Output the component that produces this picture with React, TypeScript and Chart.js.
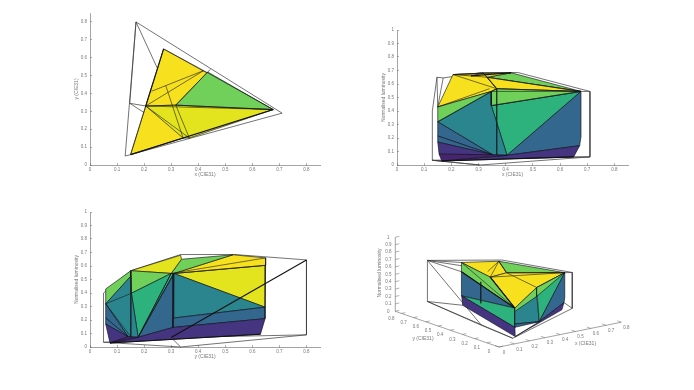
import React, { useEffect, useRef } from "react";
import { Chart, registerables } from "chart.js";

Chart.register(...registerables);

const vertexNames = ["Gt","Rt","Bt","W","Y","V","C","M","M4","A","P","A2","A3","A4","Wm","M2","M3","E","Mb","N","N2","B1","B2","B3","B4","B0","B5","R1","R2","R3","G1","G2","G3","G5","G6","K1","K2","T","Got","Gob","Rot","Rob","Bot","Bob","H","Z","Yo","Wo","Q","Kv1","Kv2"];
const cieX = [0.272,0.677,0.15,0.317,0.42,0.435,0.206,0.367,0.367,0.347,0.34,0.347,0.347,0.347,0.332,0.367,0.367,0.405,0.367,0.352,0.344,0.15,0.15,0.15,0.155,0.165,0.15,0.677,0.672,0.65,0.272,0.272,0.265,0.272,0.272,0.227,0.28,0.266,0.17,0.17,0.71,0.71,0.13,0.13,0.147,0.305,0.445,0.31,0.125,0.12,0.12];
const cieY = [0.649,0.31,0.058,0.335,0.528,0.52,0.33,0.151,0.151,0.3,0.31,0.3,0.307,0.307,0.338,0.151,0.153,0.178,0.151,0.141,0.151,0.058,0.058,0.058,0.06,0.074,0.058,0.31,0.31,0.3,0.647,0.647,0.63,0.649,0.649,0.412,0.444,0.485,0.8,0.8,0.29,0.29,0.05,0.05,0.345,0.335,0.535,0.335,0.3,0.3,0.3];
const luminosity = [0.66,0.545,0.43,0.68,0.683,0.68,0.67,0.565,0.525,0.545,0.565,0.44,0.214,0.145,0.65,0.445,0.398,0.072,0.075,0.076,0.075,0.32,0.215,0.17,0.08,0.03,0.385,0.21,0.143,0.06,0.295,0.21,0.095,0.535,0.605,0.6,0.65,0.6,0.645,0.09,0.545,0.06,0.4,0.035,0.65,0,0.685,0.685,0.07,0.66,0.37];

const tickValues = [0,0.1,0.2,0.3,0.4,0.5,0.6,0.7,0.8];
const lumTicks = [0,0.1,0.2,0.3,0.4,0.5,0.6,0.7,0.8,0.9,1];

const YEL = "#f7e11e", YD = "#e4e41e", GRN = "#70d05a", TG = "#2db27d", TEAL = "#2a858e", BLUE = "#33678d", IND = "#453581", PUR = "#47246f";

type Face = [string, string[]];

const xyFaces: Face[] = [
  [YEL, ["Gt","Rt","Bt"]],
  [YD, ["C","W","Rt","M","N2"]],
  [GRN, ["W","V","Rt"]],
];
const xyHull = [["Got","Rot","Bob","Got"],["Got","T"],["H","C"],["H","N2"],["H","Got"],["Yo","W"]];
const xyLines = [["Gt","Y","Rt"],["K1","Y"],["C","Y"],["C","M"],["K2","N2"],["W","M"],["C","W","Rt"],["C","Rt"],["W","V"],["C","Bt"]];
const xyHeavy = [["C","Gt"],["Bt","Rt"]];

const xlFaces: Face[] = [
  [YEL, ["Bt","C","W","Wm","M","A"]],
  [YEL, ["C","Gt","W"]],
  [GRN, ["Wm","Y","Rt"]],
  [YD, ["W","Y","Wm"]],
  [YEL, ["Wm","Rt","M"]],
  [GRN, ["Bt","A","A2","B1"]],
  [TG, ["A2","Rt","E"]],
  [GRN, ["A","M","Rt","A2"]],
  [TEAL, ["B1","A","A2","E","N"]],
  [BLUE, ["B1","N","B2"]],
  [BLUE, ["B2","N","B3"]],
  [IND, ["B3","N","B4"]],
  [BLUE, ["Rt","E","R2","R1"]],
  [IND, ["E","R2","R3","B0"]],
  [PUR, ["B4","N","E","B0"]],
];
const xlHull = [["Bot","H","Got","Wo","Yo","Rot","Rob","Z","Bob","Bot"],["Bob","Rob"],["Got","Bt"],["H","Bt"],["Bob","Z"],["Rot","Rt"],["R3","Rob"],["Bob","B0"]];
const xlLines = [["C","W"],["C","M"],["W","M"],["Wm","M"],["Wm","Rt"],["M","Rt"],["A","Rt"],["C","Y"],["M","Mb"],["Bt","P"],["B1","M"],["Gt","Wm"],["A2","Rt"],["A","A2"]];
const xlHeavy = [["B0","R3"],["Gt","Y"]];

const ylFaces: Face[] = [
  [YD, ["Rt","G6","G1"]],
  [YEL, ["Rt","Y","Gt","G6"]],
  [GRN, ["Wm","Y","Rt","A"]],
  [YD, ["M","W","Wm","A"]],
  [GRN, ["Bt","M","M4","B1"]],
  [GRN, ["M","A","M3"]],
  [TG, ["M3","A","E"]],
  [TG, ["A","Rt","E"]],
  [TEAL, ["B1","M4","M3","E","Mb","N"]],
  [BLUE, ["E","Rt","A4"]],
  [TEAL, ["Rt","G1","A3"]],
  [BLUE, ["A3","G1","G2","A4"]],
  [IND, ["E","A4","G2","G3","B0"]],
  [BLUE, ["B1","N","B2"]],
  [BLUE, ["B2","N","B3"]],
  [IND, ["B3","N","B0"]],
  [PUR, ["N","E","B0"]],
];
const ylHull = [["Bot","M","Wo","Yo","Got","Gob","Q","Bob","Bot"],["Bob","Z","Gob"],["Q","Z"],["Q","A"]];
const ylLines = [["M","Mb"],["Rt","A4"],["A","E"],["Rt","E"],["B1","M3"],["B1","Mb"],["Rt","G6"],["A","Gt"]];
const ylHeavy = [["B0","G3"],["Q","Got"]];

const viewFaces: Face[] = [
  [YEL, ["Gt","Y","W","C"]],
  [GRN, ["Y","Rt","W"]],
  [YEL, ["C","W","Rt","M","Bt"]],
  [GRN, ["Gt","C","Bt","B5","G5"]],
  [BLUE, ["G5","Bt","G2"]],
  [TG, ["G2","Bt","B5","B3"]],
  [IND, ["G2","B3","B0","G3"]],
  [GRN, ["Bt","M","M2","B1"]],
  [TEAL, ["B5","M2","E","B2"]],
  [BLUE, ["B2","E","B3"]],
  [TG, ["M","Rt","E"]],
  [GRN, ["M","Rt","M2"]],
  [BLUE, ["Rt","E","R2","R1"]],
  [IND, ["E","R2","R3","B0"]],
];
const viewHull = [["Got","Yo","Rot","Rob","Bob","Gob","Got"],["Got","Q"],["Gob","Q"],["Q","Bob"],["Got","Gt"],["Got","G5"],["Got","W"],["Gob","G3"],["Rot","Rt"],["Rob","R2"]];
const viewLines = [["C","Y"],["W","Y"],["K2","Y"],["W","M"],["C","Rt"],["W","Rt"],["Gt","Bt"],["Kv1","Kv2"]];
const viewHeavy = [["G5","Bt"],["C","Bt"]];

const AXIS = "#666";
const TEXT = "#777";
const EDGE = "rgba(15,15,25,0.9)";
const HULL = "rgba(60,60,60,0.8)";
const FONT = "Liberation Sans";

const vert = (name: string) => {
  const i = vertexNames.indexOf(name);
  return [cieX[i], cieY[i], luminosity[i]];
};

const polyDataset = (pts: { x: number; y: number }[], color: string) => ({
  data: [...pts, pts[0]], showLine: true, fill: "shape", backgroundColor: color,
  borderColor: EDGE, borderWidth: 0.7, pointRadius: 0, clip: false,
});
const lineDataset = (pts: { x: number; y: number }[], color = "rgba(25,25,25,0.85)", width = 0.7) => ({
  data: pts, showLine: true, fill: false, borderColor: color, borderWidth: width, pointRadius: 0, clip: false,
});

function planar(canvas: HTMLCanvasElement, a: number, b: number, faces: Face[], hull: string[][], lines: string[][], heavy: string[][], xTitle: string, yTitle: string, yMax: number, topPad: number) {
  const pick = (n: string) => { const v = vert(n); return { x: v[a], y: v[b] }; };
  const ds = [
    ...hull.map((l) => lineDataset(l.map(pick), HULL, 0.9)),
    ...faces.map(([c, names]) => polyDataset(names.map(pick), c)),
    ...lines.map((l) => lineDataset(l.map(pick))),
    ...heavy.map((l) => lineDataset(l.map(pick), "#111", 1.1)),
  ].reverse();
  const axis = (text: string, max: number, horizontal: boolean) => ({
    type: "linear", min: 0, max,
    border: { color: AXIS, width: 0.6 },
    grid: { drawOnChartArea: false, tickLength: -2, tickColor: AXIS, tickWidth: 0.5 },
    ticks: { stepSize: 0.1, includeBounds: false, color: TEXT, font: { size: 4.5, family: FONT }, padding: horizontal ? 4 : 5, maxRotation: 0, autoSkip: false, callback: (v: number) => String(Math.round(v * 10) / 10) },
    title: { display: true, text, color: TEXT, font: { size: 5, family: FONT }, padding: horizontal ? { bottom: 12, top: 0 } : { top: 14, bottom: 0 } },
    afterFit: (s: any) => { if (horizontal) s.height = 25; else s.width = 30; },
  });
  return new Chart(canvas, {
    type: "scatter",
    data: { datasets: ds as any },
    options: {
      animation: false, responsive: false,
      layout: { padding: { top: topPad, right: 5, left: 0, bottom: 0 } },
      plugins: { legend: { display: false }, tooltip: { enabled: false } },
      scales: { x: axis(xTitle, 0.85, true) as any, y: axis(yTitle, yMax, false) as any },
    },
  });
}

const ORIGIN = [499, 347];
const X_DIR = [153, -31];
const Y_DIR = [-122, -42];
const Z_DIR = [0, -74];
const project = (x: number, y: number, z: number) => ({
  x: ORIGIN[0] + x * X_DIR[0] + y * Y_DIR[0] + z * Z_DIR[0],
  y: ORIGIN[1] + x * X_DIR[1] + y * Y_DIR[1] + z * Z_DIR[1],
});
const pickView = (n: string) => { const v = vert(n); return project(v[0], v[1], v[2]); };

function perspective(canvas: HTMLCanvasElement, left: number, top: number, w: number, h: number) {
  const cornerY = 0.85;
  const shift = (p: { x: number; y: number }, dx: number, dy: number) => ({ x: p.x + dx, y: p.y + dy });
  const axisSets = [
    lineDataset([project(0.8, 0, 0), project(0, 0, 0), project(0, cornerY, 0), project(0, cornerY, 1)], AXIS, 0.6),
    ...tickValues.map((t) => lineDataset([project(t, 0, 0), shift(project(t, 0, 0), -4, -1.4)], AXIS, 0.5)),
    ...tickValues.map((t) => lineDataset([project(0, t, 0), shift(project(0, t, 0), 4, -0.8)], AXIS, 0.5)),
    ...lumTicks.map((t) => lineDataset([project(0, cornerY, t), shift(project(0, cornerY, t), 4, -1)], AXIS, 0.5)),
  ];
  const ds = [
    ...axisSets,
    ...viewHull.map((l) => lineDataset(l.map(pickView), HULL, 0.9)),
    ...viewFaces.map(([c, names]) => polyDataset(names.map(pickView), c)),
    ...viewLines.map((l) => lineDataset(l.map(pickView))),
    ...viewHeavy.map((l) => lineDataset(l.map(pickView), "#111", 1.1)),
  ].reverse();
  const labels = {
    id: "viewLabels",
    afterDatasetsDraw(chart: any) {
      const { ctx, scales: { x: sx, y: sy } } = chart;
      const put = (p: { x: number; y: number }, txt: string, size = 4.5, rot = 0) => {
        ctx.save();
        ctx.translate(sx.getPixelForValue(p.x), sy.getPixelForValue(p.y));
        ctx.rotate(rot);
        ctx.fillStyle = TEXT;
        ctx.font = `${size}px "${FONT}"`;
        ctx.textAlign = "center";
        ctx.textBaseline = "middle";
        ctx.fillText(txt, 0, 0);
        ctx.restore();
      };
      tickValues.forEach((t) => put(shift(project(t, 0, 0), 5, 5.5), String(t)));
      tickValues.forEach((t) => put(shift(project(0, t, 0), -10, 5), String(t)));
      lumTicks.forEach((t) => put(shift(project(0, cornerY, t), -7, 0), String(t)));
      put(shift(project(0.5, 0, 0), 10, 12.5), "x (CIE31)", 5);
      put(shift(project(0, 0.5, 0), -15, 13), "y (CIE31)", 5);
      put(project(-0.1, cornerY, 0.56), "Normalised luminosity", 5, -Math.PI / 2);
    },
  };
  return new Chart(canvas, {
    type: "scatter",
    data: { datasets: ds as any },
    plugins: [labels],
    options: {
      animation: false, responsive: false,
      layout: { padding: 0 },
      plugins: { legend: { display: false }, tooltip: { enabled: false } },
      scales: {
        x: { type: "linear", display: false, min: left, max: left + w },
        y: { type: "linear", display: false, reverse: true, min: top, max: top + h },
      },
    },
  });
}

const boxes = [
  { left: 60, top: 5, width: 265, height: 185 },
  { left: 367, top: 20, width: 266, height: 170 },
  { left: 60, top: 202, width: 265, height: 170 },
  { left: 370, top: 225, width: 270, height: 150 },
];

export default function App() {
  const refs = [useRef<HTMLCanvasElement>(null), useRef<HTMLCanvasElement>(null), useRef<HTMLCanvasElement>(null), useRef<HTMLCanvasElement>(null)];
  useEffect(() => {
    const charts = [
      planar(refs[0].current!, 0, 1, xyFaces, xyHull, xyLines, xyHeavy, "x (CIE31)", "y (CIE31)", 0.85, 8),
      planar(refs[1].current!, 0, 2, xlFaces, xlHull, xlLines, xlHeavy, "x (CIE31)", "Normalised luminosity", 1, 10),
      planar(refs[2].current!, 1, 2, ylFaces, ylHull, ylLines, ylHeavy, "y (CIE31)", "Normalised luminosity", 1, 10),
      perspective(refs[3].current!, boxes[3].left, boxes[3].top, boxes[3].width, boxes[3].height),
    ];
    return () => charts.forEach((c) => c.destroy());
  }, []);
  return (
    <div style={{ position: "fixed", inset: 0, width: 694, height: 390, background: "#fff", overflow: "hidden" }}>
      {boxes.map((b, i) => (
        <canvas key={i} ref={refs[i]} width={b.width} height={b.height} style={{ position: "absolute", left: b.left, top: b.top, width: b.width, height: b.height, filter: "blur(0.3px)" }} />
      ))}
    </div>
  );
}
